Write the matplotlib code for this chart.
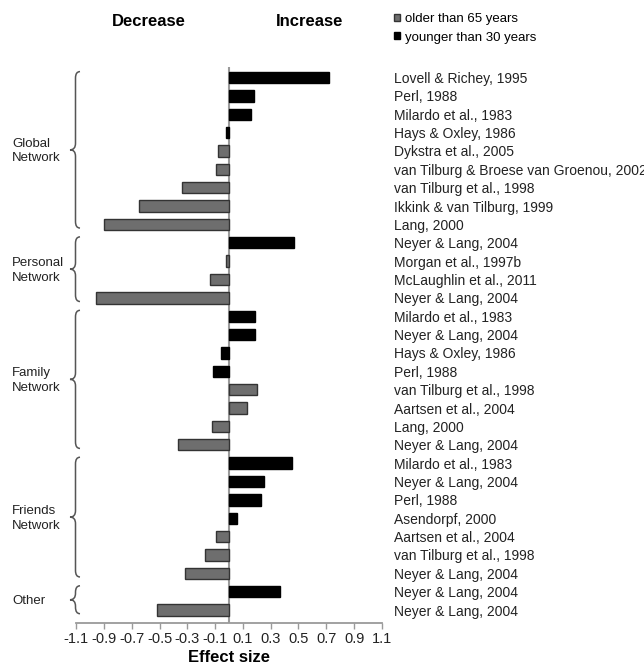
import numpy as np
import matplotlib
matplotlib.use("Agg")
import matplotlib.pyplot as plt
from matplotlib.path import Path
from matplotlib.patches import PathPatch
import matplotlib.transforms as mtransforms

plt.rcParams['font.family'] = ['Liberation Sans', 'DejaVu Sans']

# ---- data -------------------------------------------------------------
study_labels = [
    "Lovell & Richey, 1995", "Perl, 1988", "Milardo et al., 1983",
    "Hays & Oxley, 1986", "Dykstra et al., 2005",
    "van Tilburg & Broese van Groenou, 2002", "van Tilburg et al., 1998",
    "Ikkink & van Tilburg, 1999", "Lang, 2000",
    "Neyer & Lang, 2004", "Morgan et al., 1997b", "McLaughlin et al., 2011",
    "Neyer & Lang, 2004",
    "Milardo et al., 1983", "Neyer & Lang, 2004", "Hays & Oxley, 1986",
    "Perl, 1988", "van Tilburg et al., 1998", "Aartsen et al., 2004",
    "Lang, 2000", "Neyer & Lang, 2004",
    "Milardo et al., 1983", "Neyer & Lang, 2004", "Perl, 1988",
    "Asendorpf, 2000", "Aartsen et al., 2004", "van Tilburg et al., 1998",
    "Neyer & Lang, 2004",
    "Neyer & Lang, 2004", "Neyer & Lang, 2004",
]
# effect size for younger (<30) samples; None = not that group
younger = [0.72, 0.18, 0.16, -0.02, None, None, None, None, None,
           0.47, None, None, None,
           0.19, 0.19, -0.055, -0.115, None, None, None, None,
           0.45, 0.25, 0.23, 0.06, None, None, None,
           0.37, None]
older = [None, None, None, None, -0.08, -0.09, -0.34, -0.65, -0.90,
         None, -0.02, -0.14, -0.96,
         None, None, None, None, 0.20, 0.13, -0.12, -0.37,
         None, None, None, None, -0.09, -0.17, -0.32,
         None, -0.52]
group_names = ["Global\nNetwork", "Personal\nNetwork", "Family\nNetwork",
               "Friends\nNetwork", "Other"]
group_sizes = [9, 4, 8, 7, 2]
series_names = ["older than 65 years", "younger than 30 years"]
xtick_values = [-1.1, -0.9, -0.7, -0.5, -0.3, -0.1, 0.1, 0.3, 0.5, 0.7, 0.9, 1.1]
xtick_labels = ["-1.1", "-0.9", "-0.7", "-0.5", "-0.3", "-0.1",
                "0.1", "0.3", "0.5", "0.7", "0.9", "1.1"]

# ---- figure -----------------------------------------------------------
W, H = 644, 666
fig = plt.figure(figsize=(W / 100, H / 100), dpi=100)
ax_left, ax_right, ax_top, ax_bot = 76.1, 381.9, 67.0, 622.7
ax = fig.add_axes([ax_left / W, 1 - ax_bot / H,
                   (ax_right - ax_left) / W, (ax_bot - ax_top) / H])

rows = np.arange(len(study_labels))
yr = [r for r, v in zip(rows, younger) if v is not None]
yv = [v for v in younger if v is not None]
orr = [r for r, v in zip(rows, older) if v is not None]
ov = [v for v in older if v is not None]

bar_h = 0.62
ax.axvline(0, color='#9a9a9a', lw=1.5, zorder=1)
b_old = ax.barh(orr, ov, height=bar_h, color='#6e6e6e', edgecolor='#333333',
                linewidth=1.0, label=series_names[0], zorder=2)
b_young = ax.barh(yr, yv, height=bar_h, color='black', edgecolor='black',
                  linewidth=1.0, label=series_names[1], zorder=2)

ax.set_xlim(-1.1, 1.1)
ax.set_ylim(29.69, -0.57)
for s in ['left', 'right', 'top']:
    ax.spines[s].set_visible(False)
ax.spines['bottom'].set_color('#9a9a9a')
ax.spines['bottom'].set_linewidth(1.3)

ax.set_xticks(xtick_values)
ax.set_xticklabels(xtick_labels, fontsize=10.5, color='#222222')
ax.tick_params(axis='x', direction='out', length=4, color='#9a9a9a', width=1, pad=3)

ax.set_yticks(rows)
ax.set_yticklabels(study_labels, fontsize=10, color='#222222')
ax.yaxis.tick_right()
ax.tick_params(axis='y', length=0, pad=9)

ax.set_xlabel("Effect size", fontsize=12, fontweight='bold')
ax.xaxis.set_label_coords(0.5, -(657 - ax_bot) / (ax_bot - ax_top))
ax.xaxis.label.set_va('center')

fig.text(149 / W, 1 - 21 / H, "Decrease", ha='center', va='center',
         fontsize=12, fontweight='bold')
fig.text(310 / W, 1 - 21 / H, "Increase", ha='center', va='center',
         fontsize=12, fontweight='bold')

ax.legend(handles=[b_old, b_young], loc='upper left',
          bbox_to_anchor=(394 / W, 1 - 13 / H), bbox_transform=fig.transFigure,
          frameon=False, fontsize=9.5, handlelength=0.45, handleheight=0.45,
          handletextpad=0.4, borderpad=0, borderaxespad=0, labelspacing=0.5)

# ---- braces and group labels -------------------------------------------
trans = mtransforms.blended_transform_factory(fig.transFigure, ax.transData)
xa, xm, xt = 80 / W, 75.5 / W, 70 / W
start = 0
for name, n in zip(group_names, group_sizes):
    first, last = start, start + n - 1
    ytop, ybot = first - 0.32, last + 0.2
    ymid = (ytop + ybot) / 2
    d = 0.35
    verts = [(xa, ytop), (xm, ytop), (xm, ytop + d),
             (xm, ymid - d), (xm, ymid), (xt, ymid),
             (xm, ymid), (xm, ymid + d),
             (xm, ybot - d), (xm, ybot), (xa, ybot)]
    codes = [Path.MOVETO, Path.CURVE3, Path.CURVE3,
             Path.LINETO, Path.CURVE3, Path.CURVE3,
             Path.CURVE3, Path.CURVE3,
             Path.LINETO, Path.CURVE3, Path.CURVE3]
    patch = PathPatch(Path(verts, codes), transform=trans, fill=False,
                      edgecolor='#555555', lw=1.1, clip_on=False)
    ax.add_patch(patch)
    ax.text(12 / W, (first + last) / 2, name, transform=trans, ha='left',
            va='center', fontsize=9.5, color='#222222', linespacing=1.3)
    start += n

fig.savefig("out.png", dpi=100)
